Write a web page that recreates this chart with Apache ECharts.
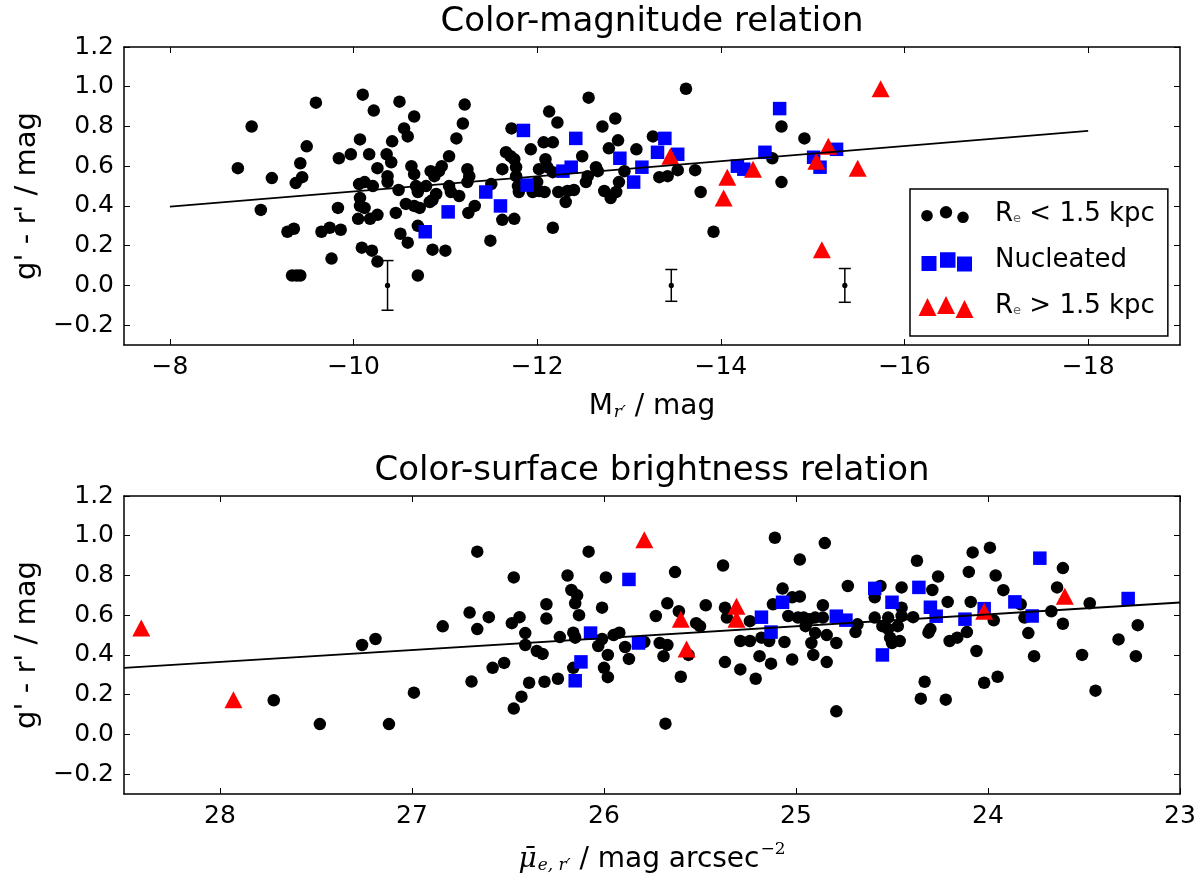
<!DOCTYPE html>
<html>
<head>
<meta charset="utf-8">
<script src="https://cdn.jsdelivr.net/npm/echarts@6/dist/echarts.min.js"></script>
<style>html,body{margin:0;padding:0;background:#fff}#c{width:1200px;height:891px}</style>
</head>
<body>
<div id="c"></div>
<script>
// ---------- Top panel: colour vs absolute magnitude ----------
const cmSmall = [[-8.74,0.59],[-8.89,0.80],[-8.99,0.38],[-9.11,0.54],[-9.28,0.27],[-9.35,0.285],[-9.33,0.05],[-9.38,0.05],[-9.42,0.05],[-9.37,0.515],[-9.44,0.545],[-9.42,0.615],[-9.49,0.70],[-9.59,0.92],[-9.65,0.27],[-9.74,0.29],[-9.86,0.28],[-9.76,0.135],[-9.83,0.39],[-9.84,0.64],[-9.97,0.66],[-10.07,0.735],[-10.10,0.96],[-10.22,0.88],[-10.17,0.66],[-10.26,0.59],[-10.36,0.66],[-10.41,0.62],[-10.42,0.725],[-10.50,0.925],[-10.66,0.85],[-10.55,0.79],[-10.59,0.75],[-10.06,0.51],[-10.12,0.52],[-10.21,0.50],[-10.07,0.44],[-10.12,0.39],[-10.07,0.40],[-10.05,0.335],[-10.18,0.335],[-10.26,0.355],[-10.37,0.55],[-10.37,0.52],[-10.46,0.365],[-10.49,0.48],[-10.51,0.26],[-10.59,0.215],[-10.09,0.19],[-10.20,0.175],[-10.26,0.12],[-10.70,0.05],[-10.63,0.60],[-10.66,0.56],[-10.68,0.50],[-10.70,0.47],[-10.57,0.41],[-10.66,0.40],[-10.72,0.39],[-10.79,0.50],[-10.84,0.575],[-10.88,0.55],[-10.93,0.575],[-10.96,0.60],[-10.83,0.42],[-10.90,0.46],[-10.86,0.43],[-11.04,0.65],[-11.12,0.74],[-11.19,0.815],[-11.21,0.91],[-11.06,0.47],[-11.15,0.45],[-11.04,0.50],[-11.24,0.585],[-11.24,0.52],[-11.26,0.55],[-11.25,0.365],[-11.32,0.40],[-10.86,0.18],[-11.00,0.175],[-10.70,0.30],
[-11.49,0.225],[-11.62,0.33],[-11.75,0.335],[-11.50,0.51],[-11.62,0.585],[-11.66,0.67],[-11.71,0.65],[-11.75,0.635],[-11.77,0.595],[-11.72,0.79],[-11.77,0.55],[-11.80,0.47],[-11.79,0.50],[-11.93,0.685],[-11.95,0.47],[-12.02,0.475],[-12.08,0.47],[-12.00,0.52],[-12.02,0.585],[-12.09,0.635],[-12.11,0.595],[-12.17,0.57],[-12.07,0.72],[-12.17,0.72],[-12.13,0.875],[-12.22,0.82],[-12.17,0.29],[-12.23,0.47],[-12.31,0.42],[-12.33,0.475],[-12.40,0.48],[-12.49,0.65],[-12.53,0.52],[-12.55,0.55],[-12.64,0.595],[-12.66,0.575],[-12.56,0.945],[-12.71,0.80],[-12.85,0.84],[-12.78,0.69],[-12.88,0.73],[-12.73,0.475],[-12.80,0.44],[-12.86,0.47],[-12.89,0.52],[-12.95,0.575],[-13.08,0.685],[-13.26,0.75],[-13.33,0.545],[-13.42,0.55],[-13.53,0.58],[-13.72,0.58],[-13.62,0.99],[-13.78,0.47],[-13.92,0.27],[-14.56,0.64],[-14.66,0.80],[-14.66,0.52],[-14.91,0.74]];
const cmNucleated = [[-10.78,0.27],[-11.03,0.37],[-11.44,0.47],[-11.60,0.40],[-11.85,0.78],[-11.89,0.505],[-12.42,0.74],[-12.28,0.575],[-12.37,0.595],[-12.90,0.64],[-13.05,0.52],[-13.14,0.595],[-13.31,0.67],[-13.39,0.74],[-13.53,0.66],[-14.18,0.60],[-14.25,0.585],[-14.48,0.67],[-14.64,0.89],[-15.26,0.685],[-15.08,0.595],[-15.01,0.645]];
const cmLarge = [[-13.45,0.65],[-14.07,0.545],[-14.03,0.44],[-14.35,0.585],[-15.74,0.99],[-15.17,0.70],[-15.04,0.625],[-15.49,0.59],[-15.10,0.18]];
const cmErrors = [[-10.37,0.0,0.125],[-13.46,0.0,0.08],[-15.35,0.0,0.085]];
const cmFit = [[-8,0.397],[-18,0.778]];
const cmTicks = [-18,-16,-14,-12,-10,-8];

// ---------- Bottom panel: colour vs mean effective surface brightness ----------
const csSmall = [[27.72,0.172],[27.48,0.052],[27.12,0.052],[27.26,0.45],[27.19,0.48],[26.99,0.21],[26.84,0.544],[26.70,0.613],[26.66,0.53],[26.69,0.266],[26.66,0.92],
[26.60,0.59],[26.47,0.79],[26.48,0.56],[26.44,0.59],[26.41,0.51],[26.41,0.45],[26.58,0.335],[26.52,0.36],[26.39,0.26],[26.31,0.265],[26.24,0.28],[26.43,0.19],[26.47,0.13],[26.35,0.42],[26.32,0.405],[26.30,0.655],[26.30,0.583],[26.23,0.49],[26.19,0.80],[26.17,0.727],[26.14,0.70],[26.15,0.66],[26.13,0.60],[26.16,0.512],[26.15,0.487],[26.16,0.335],[26.08,0.92],[26.01,0.638],[25.99,0.79],[26.03,0.445],[26.01,0.48],[25.98,0.40],[26.00,0.335],[25.98,0.288],[25.95,0.50],[25.92,0.512],[25.89,0.44],[25.87,0.38],[25.79,0.465],[25.73,0.596],[25.67,0.66],[25.71,0.46],[25.67,0.45],[25.69,0.394],[25.68,0.054],[25.63,0.817],[25.60,0.29],[25.61,0.62],[25.56,0.40],[25.52,0.56],[25.50,0.545],[25.47,0.65],[25.38,0.85],[25.37,0.638],[25.36,0.588],[25.37,0.364],[25.29,0.327],[25.29,0.47],[25.24,0.47],[25.24,0.57],[25.21,0.28],
[25.19,0.394],[25.13,0.356],[25.18,0.487],[25.14,0.47],[25.11,0.99],[25.07,0.734],[25.12,0.655],[25.02,0.69],[24.98,0.694],[25.06,0.465],[25.02,0.377],[25.04,0.596],[24.98,0.88],[24.99,0.588],[24.96,0.588],[24.93,0.58],[24.90,0.588],[24.86,0.588],[24.95,0.545],[24.90,0.51],[24.92,0.46],[24.91,0.40],[24.86,0.65],[24.85,0.963],[24.84,0.50],[24.79,0.46],[24.84,0.364],[24.79,0.116],[24.73,0.747],[24.68,0.554],[24.69,0.515],[24.59,0.588],[24.59,0.69],[24.56,0.747],[24.55,0.545],[24.52,0.588],[24.52,0.53],[24.51,0.487],[24.50,0.46],[24.46,0.47],[24.47,0.545],[24.45,0.596],[24.45,0.638],[24.45,0.74],[24.39,0.59],[24.37,0.874],[24.29,0.727],[24.30,0.53],[24.31,0.512],[24.26,0.795],[24.21,0.667],[24.20,0.47],[24.16,0.487],[24.11,0.515],[24.33,0.265],[24.35,0.18],[24.22,0.175],[24.08,0.916],[24.10,0.818],[24.09,0.667],[24.06,0.42],
[23.99,0.94],[23.96,0.80],[23.92,0.726],[24.02,0.26],[23.95,0.29],[23.97,0.574],[23.83,0.655],[23.81,0.588],[23.79,0.51],[23.76,0.394],[23.64,0.74],[23.61,0.837],[23.67,0.62],[23.61,0.557],[23.51,0.40],[23.47,0.66],[23.44,0.22],[23.32,0.478],[23.22,0.55],[23.23,0.394]];
const csNucleated = [[25.87,0.78],[26.07,0.51],[26.12,0.365],[26.15,0.27],[25.82,0.46],[25.18,0.59],[25.13,0.515],[25.07,0.665],[24.79,0.595],[24.74,0.575],[24.59,0.735],[24.50,0.665],[24.55,0.40],[24.36,0.74],[24.30,0.64],[24.27,0.595],[24.12,0.58],[24.02,0.633],[23.86,0.667],[23.77,0.596],[23.73,0.887],[23.27,0.684]];
const csLarge = [[28.41,0.535],[27.93,0.175],[25.79,0.98],[25.60,0.58],[25.57,0.43],[25.31,0.645],[25.31,0.58],[24.02,0.62],[23.60,0.695]];
const csFit = [[28.5,0.335],[23,0.664]];
const csTicks = [23,24,25,26,27,28];

const colorTicks = [-0.2,0.0,0.2,0.4,0.6,0.8,1.0,1.2];

// ---------- chart ----------
const FONT = 'DejaVu Sans';
const chart = echarts.init(document.getElementById('c'), null, {renderer:'canvas'});
const fmtNum = (d) => (v) => (v < 0 ? '\u2212' : '') + Math.abs(v).toFixed(d);

function xAx(grid, min, max, ticks, showLabel, pos, name, rich) {
  return {
    type:'value', gridIndex:grid, min:min, max:max, inverse:true, position:pos,
    axisLine:{show:true, onZero:false, lineStyle:{color:'#000', width:1.5}},
    axisTick:{show:true, inside:true, length:6, customValues:ticks, lineStyle:{color:'#000', width:1}},
    axisLabel:{show:showLabel, customValues:ticks, formatter:fmtNum(0), fontSize:25, fontFamily:FONT, color:'#000', margin:10},
    splitLine:{show:false},
    name: name || '', nameLocation:'middle', nameGap:47,
    nameTextStyle:{fontSize:28, fontFamily:FONT, color:'#000', rich:rich || {}}
  };
}
function yAx(grid, showLabel, pos, name) {
  return {
    type:'value', gridIndex:grid, min:-0.3, max:1.2, position:pos,
    axisLine:{show:true, onZero:false, lineStyle:{color:'#000', width:1.5}},
    axisTick:{show:true, inside:true, length:6, customValues:colorTicks, lineStyle:{color:'#000', width:1}},
    axisLabel:{show:showLabel, customValues:colorTicks, formatter:fmtNum(1), fontSize:25, fontFamily:FONT, color:'#000', margin:10},
    splitLine:{show:false},
    name: name || '', nameLocation:'middle', nameGap:74, nameRotate:90,
    nameTextStyle:{fontSize:29, fontFamily:FONT, color:'#000'}
  };
}

const subRich = {
  sub:{fontSize:17, fontFamily:'DejaVu Serif', fontStyle:'italic', color:'#000', padding:[12,0,0,1]},
  it:{fontSize:28, fontFamily:'DejaVu Serif', fontStyle:'italic', color:'#000'},
  sup:{fontSize:17, fontFamily:'DejaVu Serif', color:'#000', padding:[0,0,20,1]}
};

const errRender = function(params, api) {
  const x = api.value(0), y = api.value(1), e = api.value(2);
  const c = api.coord([x, y]), t = api.coord([x, y + e]), b = api.coord([x, y - e]);
  const w = 6, st = {stroke:'#000', lineWidth:1.5};
  return {type:'group', children:[
    {type:'line', shape:{x1:c[0], y1:t[1], x2:c[0], y2:b[1]}, style:st},
    {type:'line', shape:{x1:c[0]-w, y1:t[1], x2:c[0]+w, y2:t[1]}, style:st},
    {type:'line', shape:{x1:c[0]-w, y1:b[1], x2:c[0]+w, y2:b[1]}, style:st},
    {type:'circle', shape:{cx:c[0], cy:c[1], r:2.6}, style:{fill:'#000'}}
  ]};
};

// legend icons: three markers each, inside a common 56x25 box
const BOX = 'M0,0L0.01,0M56,25L55.99,25';
const circ = (cx, cy, r) => `M${cx-r},${cy}a${r},${r} 0 1,0 ${2*r},0a${r},${r} 0 1,0 ${-2*r},0Z`;
const rect = (x, y, s) => `M${x},${y}L${x+s},${y}L${x+s},${y+s}L${x},${y+s}Z`;
const tri = (x, y, w, h) => `M${x+w/2},${y}L${x+w},${y+h}L${x},${y+h}Z`;
const iconSmall = 'path://' + BOX + circ(9,14.2,5.8) + circ(28,10.8,6.2) + circ(45,15.8,5.8);
const iconNuc = 'path://' + BOX + rect(3.5,8.5,15) + rect(22,4.8,15.5) + rect(39,9,15);
const iconLarge = 'path://' + BOX + tri(0.5,4.5,18,18) + tri(19,2.5,18,18) + tri(37.5,6.5,18,18);

const N_SMALL = 'small', N_NUC = 'Nucleated', N_LARGE = 'large';

const option = {
  animation:false,
  backgroundColor:'#fff',
  title:[
    {text:'Color-magnitude relation', left:652, top:5, textAlign:'center', padding:0,
     textStyle:{fontSize:34, fontWeight:'normal', fontFamily:FONT, color:'#000'}},
    {text:'Color-surface brightness relation', left:652, top:454, textAlign:'center', padding:0,
     textStyle:{fontSize:34, fontWeight:'normal', fontFamily:FONT, color:'#000'}}
  ],
  grid:[
    {left:124, right:20, top:47, height:298},
    {left:124, right:20, top:496, height:298}
  ],
  xAxis:[
    xAx(0, -19, -7.5, cmTicks, true, 'bottom', 'M{sub|r\u2032} / mag', subRich),
    xAx(0, -19, -7.5, cmTicks, false, 'top'),
    xAx(1, 23, 28.5, csTicks, true, 'bottom', '{it|\u03BC\u0304}{sub|e, r\u2032} / mag arcsec{sup|\u22122}', subRich),
    xAx(1, 23, 28.5, csTicks, false, 'top')
  ],
  yAxis:[
    yAx(0, true, 'left', "g' - r' / mag"),
    yAx(0, false, 'right'),
    yAx(1, true, 'left', "g' - r' / mag"),
    yAx(1, false, 'right')
  ],
  legend:{
    orient:'vertical', left:910, top:189, selectedMode:false,
    padding:[12,13,17,8], itemGap:20, itemWidth:56, itemHeight:25,
    backgroundColor:'#fff', borderColor:'#000', borderWidth:1.5, borderRadius:0,
    data:[{name:N_SMALL, icon:iconSmall}, {name:N_NUC, icon:iconNuc}, {name:N_LARGE, icon:iconLarge}],
    formatter:function(n){
      if (n === N_SMALL) return 'R{sub|e} < 1.5 kpc';
      if (n === N_LARGE) return 'R{sub|e} > 1.5 kpc';
      return 'Nucleated';
    },
    textStyle:{fontSize:26, fontFamily:FONT, color:'#000', padding:[0,0,0,16],
      rich:{sub:{fontSize:13, fontFamily:FONT, color:'#666', padding:[10,0,0,0]}}}
  },
  series:[
    {type:'scatter', name:N_SMALL, xAxisIndex:0, yAxisIndex:0, data:cmSmall, symbol:'circle', symbolSize:12.5, itemStyle:{color:'#000', opacity:1}, silent:true},
    {type:'scatter', name:N_SMALL, xAxisIndex:2, yAxisIndex:2, data:csSmall, symbol:'circle', symbolSize:12.5, itemStyle:{color:'#000', opacity:1}, silent:true},
    {type:'scatter', name:N_NUC, xAxisIndex:0, yAxisIndex:0, data:cmNucleated, symbol:'rect', symbolSize:13.5, itemStyle:{color:'#0000ff', opacity:1}, silent:true},
    {type:'scatter', name:N_NUC, xAxisIndex:2, yAxisIndex:2, data:csNucleated, symbol:'rect', symbolSize:13.5, itemStyle:{color:'#0000ff', opacity:1}, silent:true},
    {type:'line', name:'fit1', xAxisIndex:0, yAxisIndex:0, data:cmFit, showSymbol:false, symbol:'none', lineStyle:{color:'#000', width:1.8}, silent:true},
    {type:'line', name:'fit2', xAxisIndex:2, yAxisIndex:2, data:csFit, showSymbol:false, symbol:'none', lineStyle:{color:'#000', width:1.8}, silent:true},
    {type:'scatter', name:N_LARGE, xAxisIndex:0, yAxisIndex:0, data:cmLarge, symbol:'triangle', symbolSize:[18,17], itemStyle:{color:'#ff0000', opacity:1}, silent:true},
    {type:'scatter', name:N_LARGE, xAxisIndex:2, yAxisIndex:2, data:csLarge, symbol:'triangle', symbolSize:[18,17], itemStyle:{color:'#ff0000', opacity:1}, silent:true},
    {type:'custom', name:'err', xAxisIndex:0, yAxisIndex:0, data:cmErrors, renderItem:errRender, encode:{x:0, y:1}, silent:true}
  ]
};
chart.setOption(option);
</script>
</body>
</html>
